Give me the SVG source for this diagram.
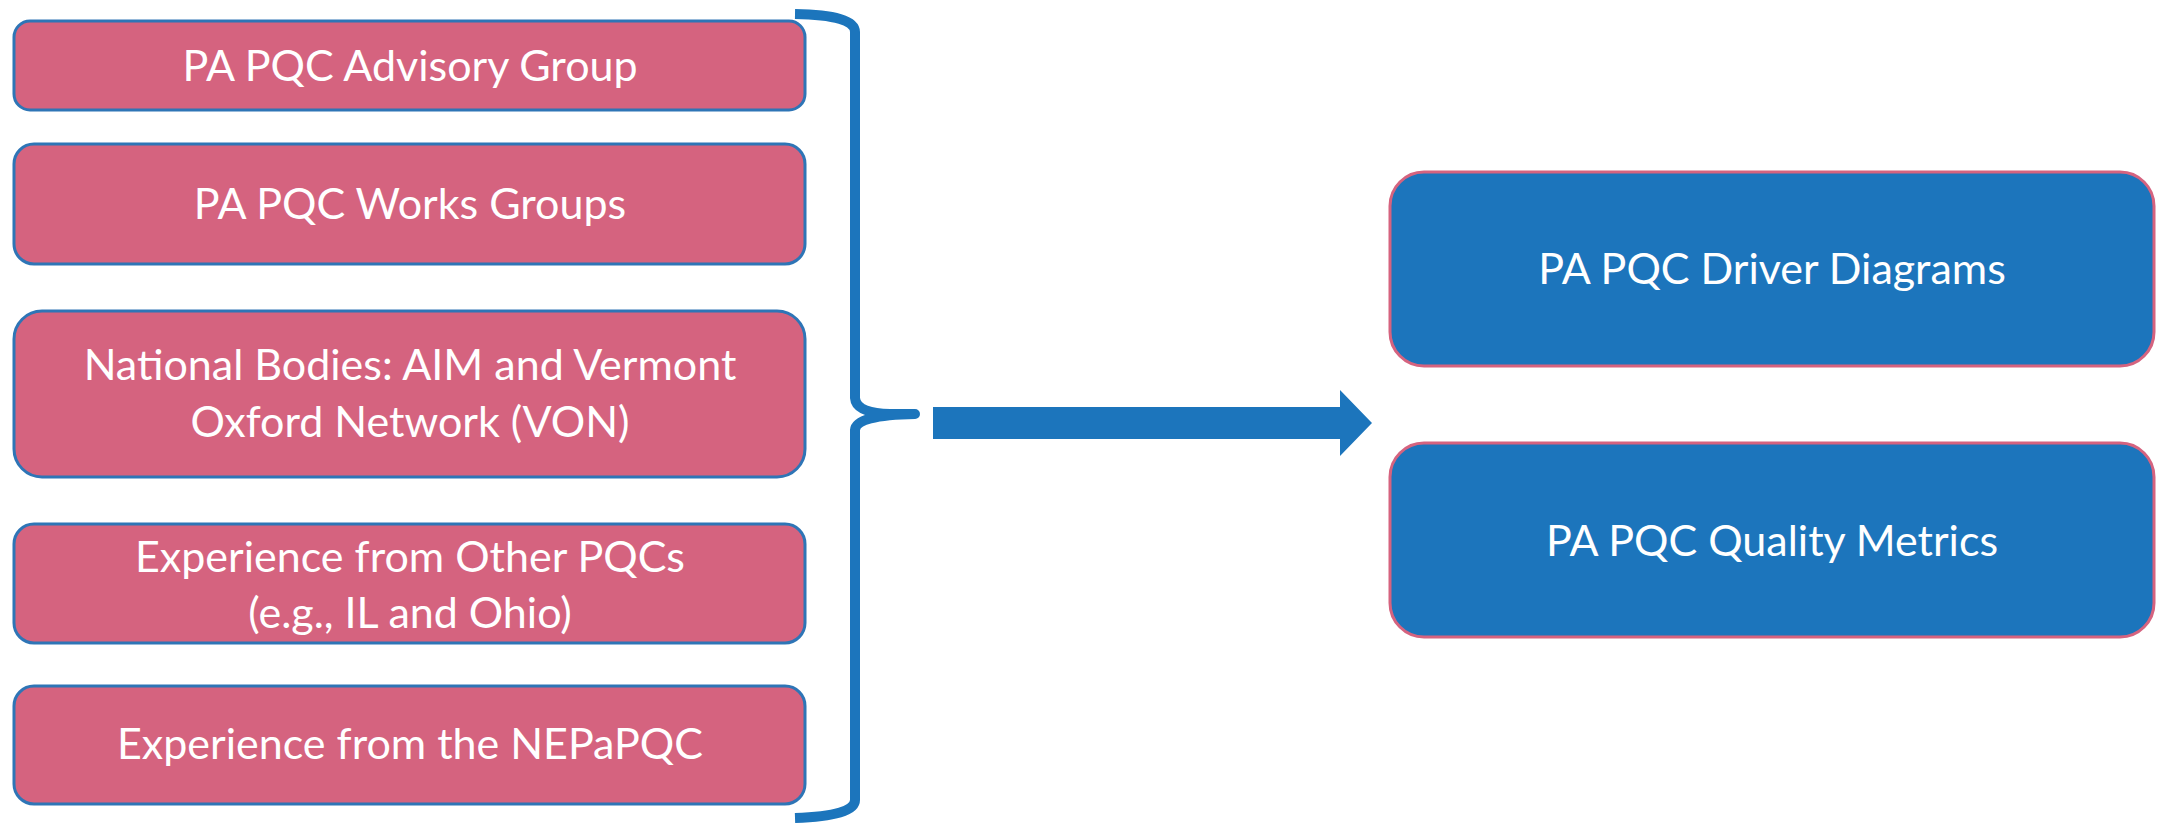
<svg xmlns="http://www.w3.org/2000/svg" width="2158" height="825" viewBox="0 0 2158 825">
<style>
.src rect{fill:#D5637F;stroke:#2E75B6;stroke-width:3}
.out rect{fill:#1C75BC;stroke:#D5637F;stroke-width:3}
text{font-family:Lato,"Open Sans","Liberation Sans",sans-serif;font-size:43px;fill:#FFFFFF;text-anchor:middle}
.brace{fill:none;stroke:#1C75BC;stroke-width:10;stroke-linecap:butt;stroke-linejoin:round}
.arrow{fill:#1C75BC}
</style>
<rect width="2158" height="825" fill="#FFFFFF"/>
<g id="node-advisory" class="src">
<rect x="14" y="21" width="791" height="89" rx="16"/>
<text x="410" y="81">PA PQC Advisory Group</text>
</g>
<g id="node-works" class="src">
<rect x="14" y="144" width="791" height="120" rx="20"/>
<text x="410" y="219">PA PQC Works Groups</text>
</g>
<g id="node-national" class="src">
<rect x="14" y="311" width="791" height="166" rx="28"/>
<text x="410" y="380">National Bodies: AIM and Vermont</text>
<text x="410" y="437">Oxford Network (VON)</text>
</g>
<g id="node-otherpqcs" class="src">
<rect x="14" y="524" width="791" height="119" rx="20"/>
<text x="410" y="572">Experience from Other PQCs</text>
<text x="410" y="628">(e.g., IL and Ohio)</text>
</g>
<g id="node-nepapqc" class="src">
<rect x="14" y="686" width="791" height="118" rx="20"/>
<text x="410" y="759">Experience from the NEPaPQC</text>
</g>
<g id="node-driver" class="out">
<rect x="1390" y="172" width="764" height="194" rx="34"/>
<text x="1772" y="284">PA PQC Driver Diagrams</text>
</g>
<g id="node-metrics" class="out">
<rect x="1390" y="443" width="764" height="194" rx="34"/>
<text x="1772" y="556">PA PQC Quality Metrics</text>
</g>
<g id="connectors">
<path class="brace" d="M 795 14 Q 855 15 855 32 L 855 398 Q 856 413 890 414 L 915 414 Q 856 415 855 430 L 855 800 Q 855 816 795 818"/>
<polygon class="arrow" points="933,407 1340,407 1340,390 1372,423 1340,456 1340,439 933,439"/>
</g>
</svg>
